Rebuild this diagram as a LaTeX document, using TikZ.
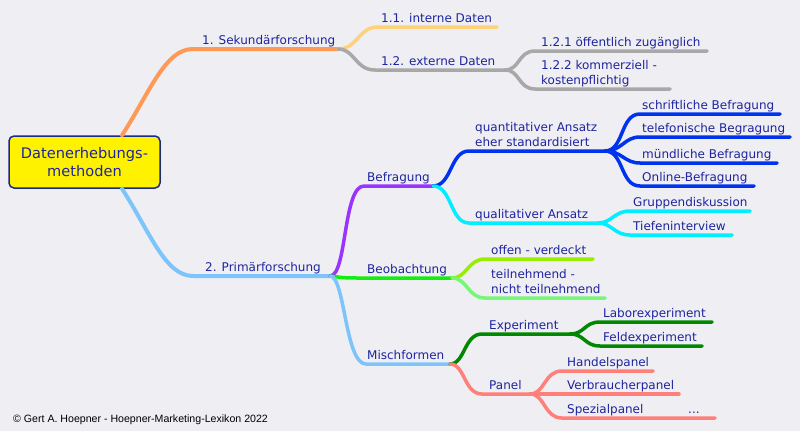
\documentclass[tikz,border=0pt]{standalone}
\usepackage{fontspec}
\setmainfont{DejaVu Sans}
\newfontfamily\copyfont{Liberation Sans}
\definecolor{bgc}{HTML}{EFEEF3}
\definecolor{txt}{HTML}{1E249E}
\definecolor{corange}{HTML}{FF9955}
\definecolor{cyellow}{HTML}{FFD27A}
\definecolor{cgrey}{HTML}{A8A8A8}
\definecolor{clblue}{HTML}{7DC4FB}
\definecolor{cpurple}{HTML}{9933FF}
\definecolor{cgreen}{HTML}{11EE11}
\definecolor{cblue}{HTML}{0033EE}
\definecolor{ccyan}{HTML}{00EEFF}
\definecolor{clime}{HTML}{99EE00}
\definecolor{clgreen}{HTML}{77F777}
\definecolor{cdgreen}{HTML}{008800}
\definecolor{csalmon}{HTML}{FF7F7A}
\definecolor{rootborder}{HTML}{1A2A8A}
\newcommand\lstrut{\rule[-3pt]{0pt}{1pt}}
\tikzset{
  lbl/.style={anchor=south west, inner sep=0pt, text=txt, font=\fontsize{12}{15}\selectfont, align=left, execute at end node=\lstrut},
  br/.style={line width=3.5pt, line cap=round},
  mainbr/.style={line width=4pt, line cap=round},
}
\begin{document}
\begin{tikzpicture}[x=1pt,y=-1pt]
\fill[bgc] (0,0) rectangle (800,431);
\useasboundingbox (0,0) rectangle (800,431);

% junction coordinates
\coordinate (j1) at (338,49);
\coordinate (j12) at (505,70);
\coordinate (j2) at (330,276);
\coordinate (jbef) at (433,186);
\coordinate (jbeo) at (452,278);
\coordinate (jmis) at (450,364);
\coordinate (jquan) at (605,151);
\coordinate (jqual) at (598,223);
\coordinate (jexp) at (570,334);
\coordinate (jpan) at (530,394);
% end coordinates
\coordinate (e11) at (497,27);
\coordinate (e121) at (707,51);
\coordinate (e122) at (670,89);
\coordinate (es1) at (780,114);
\coordinate (es2) at (790,137);
\coordinate (es3) at (777,163);
\coordinate (es4) at (754,186);
\coordinate (eq1) at (750,211);
\coordinate (eq2) at (732,235);
\coordinate (eb1) at (593,259);
\coordinate (eb2) at (605,298);
\coordinate (ee1) at (712,322);
\coordinate (ee2) at (702,346);
\coordinate (ep1) at (653,371);
\coordinate (ep2) at (679,394);
\coordinate (ep3) at (715,418);

% root
\node[draw=rootborder, line width=1.5pt, fill=yellow, rounded corners=5pt,
      minimum width=151pt, minimum height=52pt, inner sep=0pt, text=txt,
      align=center, font=\fontsize{14.6}{18}\selectfont] (root) at (84.5,162)
      {Datenerhebungs-\\methoden};

% main branches
\draw[mainbr, corange] ([xshift=37.5pt]root.north) .. controls (150,92) and (165,49) .. (193,49) -- (j1);
\draw[mainbr, clblue] ([xshift=37.5pt]root.south) .. controls (150,232) and (165,276) .. (193,276) -- (j2);

% Sekundaerforschung
\draw[br, cyellow] (j1) .. controls (358,49) and (358,27) .. (378,27) -- (e11);
\draw[br, cgrey] (j1) .. controls (355,49) and (355,70) .. (375,70) -- (j12);
\draw[br, cgrey] (j12) .. controls (520,70) and (518,51) .. (535,51) -- (e121);
\draw[br, cgrey] (j12) .. controls (520,70) and (518,89) .. (535,89) -- (e122);

% Primaerforschung
\draw[br, cpurple] (j2) .. controls (347,276) and (343,186) .. (364,186) -- (jbef);
\draw[br, cgreen] (j2) .. controls (345,278) .. (362,278) -- (jbeo);
\draw[br, clblue] (j2) .. controls (345,276) and (345,364) .. (366,364) -- (jmis);

% Befragung
\draw[br, cblue] (jbef) .. controls (452,186) and (450,151) .. (469,151) -- (jquan);
\draw[br, ccyan] (jbef) .. controls (452,186) and (450,223) .. (469,223) -- (jqual);
\draw[br, cblue] (jquan) .. controls (624,151) and (620,114) .. (640,114) -- (es1);
\draw[br, cblue] (jquan) .. controls (622,151) and (624,137) .. (640,137) -- (es2);
\draw[br, cblue] (jquan) .. controls (622,151) and (624,163) .. (640,163) -- (es3);
\draw[br, cblue] (jquan) .. controls (624,151) and (620,186) .. (640,186) -- (es4);
\draw[br, ccyan] (jqual) .. controls (612,223) and (614,211) .. (630,211) -- (eq1);
\draw[br, ccyan] (jqual) .. controls (612,223) and (614,235) .. (630,235) -- (eq2);

% Beobachtung
\draw[br, clime] (jbeo) .. controls (467,278) and (468,259) .. (485,259) -- (eb1);
\draw[br, clgreen] (jbeo) .. controls (467,278) and (468,298) .. (485,298) -- (eb2);

% Mischformen
\draw[br, cdgreen] (jmis) .. controls (465,364) and (464,334) .. (482,334) -- (jexp);
\draw[br, csalmon] (jmis) .. controls (465,364) and (464,394) .. (482,394) -- (jpan);
\draw[br, cdgreen] (jexp) .. controls (585,334) and (584,322) .. (600,322) -- (ee1);
\draw[br, cdgreen] (jexp) .. controls (585,334) and (584,346) .. (600,346) -- (ee2);
\draw[br, csalmon] (jpan) .. controls (545,394) and (544,371) .. (562,371) -- (ep1);
\draw[br, csalmon] (jpan) -- (ep2);
\draw[br, csalmon] (jpan) .. controls (545,394) and (544,418) .. (562,418) -- (ep3);

% labels
\node[lbl] (lsek) at (202,48) {1. Sekundärforschung};
\node[lbl] (l11) at (381,26) {1.1. interne Daten};
\node[lbl] (l12) at (381,69) {1.2. externe Daten};
\node[lbl] (l121) at (541,50) {1.2.1 öffentlich zugänglich};
\node[lbl] (l122) at (541,88) {1.2.2 kommerziell -\\kostenpflichtig};
\node[lbl] (lprim) at (205,275) {2. Primärforschung};
\node[lbl] (lbef) at (367,185) {Befragung};
\node[lbl] (lbeo) at (367,277) {Beobachtung};
\node[lbl] (lmis) at (367,363) {Mischformen};
\node[lbl] (lquan) at (475,150) {quantitativer Ansatz\\eher standardisiert};
\node[lbl] (lqual) at (475,222) {qualitativer Ansatz};
\node[lbl] (ls1) at (642,113) {schriftliche Befragung};
\node[lbl] (ls2) at (642,136) {telefonische Begragung};
\node[lbl] (ls3) at (642,162) {mündliche Befragung};
\node[lbl] (ls4) at (642,185) {Online-Befragung};
\node[lbl] (lq1) at (633,210) {Gruppendiskussion};
\node[lbl] (lq2) at (633,234) {Tiefeninterview};
\node[lbl] (lb1) at (491,258) {offen - verdeckt};
\node[lbl] (lb2) at (491,297) {teilnehmend -\\nicht teilnehmend};
\node[lbl] (lexp) at (489,333) {Experiment};
\node[lbl] (le1) at (603,321) {Laborexperiment};
\node[lbl] (le2) at (603,345) {Feldexperiment};
\node[lbl] (lpan) at (489,393) {Panel};
\node[lbl] (lp1) at (567,370) {Handelspanel};
\node[lbl] (lp2) at (567,393) {Verbraucherpanel};
\node[lbl] (lp3) at (567,417) {\makebox[121pt][l]{Spezialpanel}...};

% copyright
\node[anchor=base west, inner sep=0pt, font=\copyfont\fontsize{10.6}{12}\selectfont, text=black] (copy) at (13,422)
  {© Gert A. Hoepner - Hoepner-Marketing-Lexikon 2022};
\end{tikzpicture}
\end{document}
